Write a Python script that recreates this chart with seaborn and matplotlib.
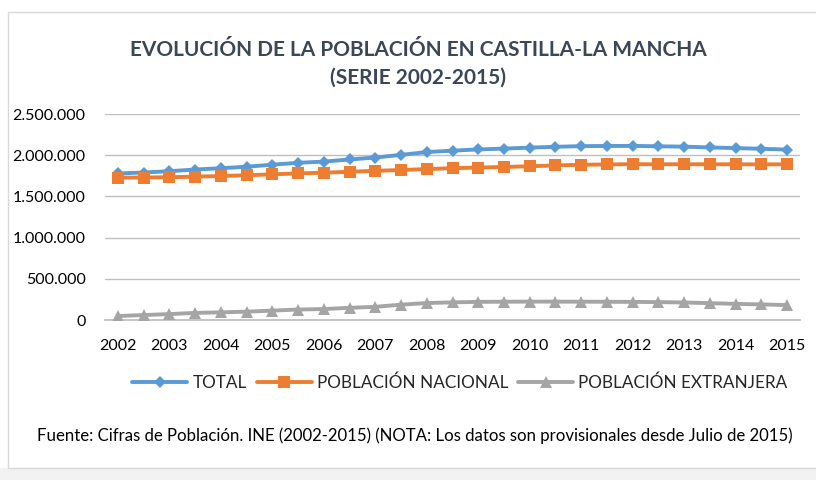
import matplotlib
matplotlib.use("Agg")
import matplotlib.pyplot as plt
import seaborn as sns
import pandas as pd
from matplotlib.patches import Rectangle
from matplotlib.ticker import FuncFormatter

# semester periods (enero / julio) 2002-2015
periodos = [2002.0, 2002.5, 2003.0, 2003.5, 2004.0, 2004.5, 2005.0, 2005.5,
            2006.0, 2006.5, 2007.0, 2007.5, 2008.0, 2008.5, 2009.0, 2009.5,
            2010.0, 2010.5, 2011.0, 2011.5, 2012.0, 2012.5, 2013.0, 2013.5,
            2014.0, 2014.5, 2015.0]

total = [1778000, 1790000, 1806000, 1826000, 1842000, 1860000, 1885000, 1908000,
         1922000, 1948000, 1972000, 2004000, 2038000, 2055000, 2070000, 2080000,
         2092000, 2102000, 2110000, 2112000, 2113000, 2108000, 2104000, 2094000,
         2086000, 2078000, 2068000]

nacional = [1727000, 1729000, 1733000, 1739000, 1748000, 1756000, 1768000, 1779000,
            1788000, 1799000, 1811000, 1820000, 1832000, 1842000, 1850000, 1857000,
            1866000, 1876000, 1884000, 1888000, 1891000, 1890000, 1890000, 1890000,
            1889000, 1889000, 1889000]

extranjera = [48000, 60000, 72000, 86000, 93000, 101000, 114000, 127000,
              133000, 148000, 160000, 186000, 206000, 214000, 220000, 222000,
              223000, 223000, 222000, 221000, 220000, 217000, 213000, 204000,
              196000, 189000, 181000]

series_names = ["TOTAL", "POBLACIÓN NACIONAL", "POBLACIÓN EXTRANJERA"]
anios = list(range(2002, 2016))

df = pd.DataFrame({
    "periodo": periodos * 3,
    "valor": total + nacional + extranjera,
    "serie": [series_names[0]] * 27 + [series_names[1]] * 27 + [series_names[2]] * 27,
})

sns.set_theme(style="white")
plt.rcParams["font.family"] = ["Lato", "DejaVu Sans"]

colors = {"TOTAL": "#5B9BD5", "POBLACIÓN NACIONAL": "#ED7D31",
          "POBLACIÓN EXTRANJERA": "#A5A5A5"}
markers = {"TOTAL": "D", "POBLACIÓN NACIONAL": "s", "POBLACIÓN EXTRANJERA": "^"}
msizes = {"TOTAL": 6.5, "POBLACIÓN NACIONAL": 9, "POBLACIÓN EXTRANJERA": 8}

fig = plt.figure(figsize=(8.16, 4.8), dpi=100)
W, H = 816, 480

# chart frame + bottom shade
fig.patches.append(Rectangle((0, 0), 1, 12 / H, transform=fig.transFigure,
                             facecolor="#F2F2F2", edgecolor="none", zorder=-3))
fig.patches.append(Rectangle((8 / W, 12 / H), 1.0, 1 - 24 / H, transform=fig.transFigure,
                             facecolor="white", edgecolor="#D9D9D9", lw=1, zorder=-2))

ax = fig.add_axes([105 / W, 1 - 320 / H, (800 - 105) / W, (320 - 114) / H])
ax.set_facecolor("none")
ax.set_zorder(2)

for name in series_names:
    sub = df[df["serie"] == name]
    sns.lineplot(data=sub, x="periodo", y="valor", ax=ax, color=colors[name],
                 lw=2.8, marker=markers[name], markersize=msizes[name],
                 markeredgewidth=0, label=name, zorder=3)

ax.set_xlim(2002 - 0.25, 2015 + 0.25)
ax.set_ylim(0, 2500000)
ax.set_yticks([0, 500000, 1000000, 1500000, 2000000, 2500000])
ax.yaxis.set_major_formatter(FuncFormatter(lambda v, p: f"{int(v):,}".replace(",", ".")))
ax.set_xticks(anios)
ax.set_xticklabels([str(a) for a in anios])
ax.grid(axis="y", color="#BFBFBF", lw=1)
ax.grid(axis="x", visible=False)
for s in ["top", "right", "left"]:
    ax.spines[s].set_visible(False)
ax.spines["bottom"].set_color("#BFBFBF")
ax.tick_params(axis="both", length=0, labelsize=11.5, colors="#000000")
ax.tick_params(axis="y", pad=14)
ax.tick_params(axis="x", pad=14)
ax.set_xlabel("")
ax.set_ylabel("")

ax.legend(loc="center", bbox_to_anchor=(460 / W, 1 - 383 / H),
          bbox_transform=fig.transFigure, ncol=3, frameon=False,
          fontsize=12.3, handlelength=3.2, columnspacing=0.6, handletextpad=0.3)

fig.text(418 / W, 1 - 50 / H, "EVOLUCIÓN DE LA POBLACIÓN EN CASTILLA-LA MANCHA",
         ha="center", va="center", fontsize=15, fontweight="bold", color="#3B4657")
fig.text(418 / W, 1 - 78 / H, "(SERIE 2002-2015)",
         ha="center", va="center", fontsize=15, fontweight="bold", color="#3B4657")
fig.text(415 / W, 1 - 436 / H,
         "Fuente: Cifras de Población. INE (2002-2015) (NOTA: Los datos son provisionales desde Julio de 2015)",
         ha="center", va="center", fontsize=12.1, color="#000000")

fig.savefig("out.png", dpi=100)
